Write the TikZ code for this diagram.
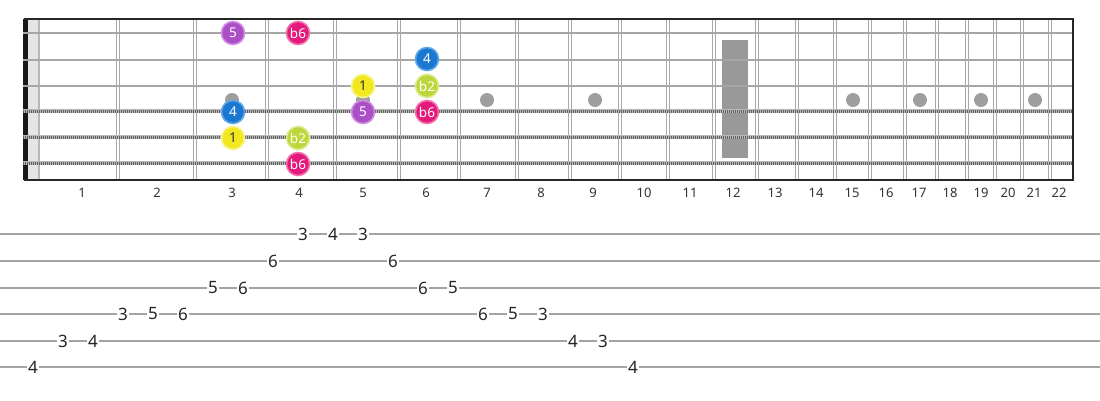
\documentclass[tikz,border=0pt]{standalone}
\usepackage{fontspec}
\setmainfont{Noto Sans}
\definecolor{cpurple}{HTML}{AB4FC6}
\definecolor{cpurpler}{HTML}{D08CE2}
\definecolor{cpink}{HTML}{E4197C}
\definecolor{cpinkr}{HTML}{F26FAB}
\definecolor{cblue}{HTML}{1B78D2}
\definecolor{cbluer}{HTML}{5FA6E8}
\definecolor{cyellow}{HTML}{F1E820}
\definecolor{cyellowr}{HTML}{F8F38A}
\definecolor{clime}{HTML}{BCD73A}
\definecolor{climer}{HTML}{DAEB8E}
\begin{document}
\begin{tikzpicture}[x=1pt,y=-1pt,
  note/.style={circle, minimum size=23pt, inner sep=0pt, line width=1.6pt, font=\fontsize{13.5}{14}\selectfont, text=white},
  tabnum/.style={fill=white, inner sep=1pt, font=\fontsize{17}{17}\selectfont, text=black!85},
  fretnum/.style={inner sep=0pt, font=\fontsize{13}{13}\selectfont, text=black!80},
  fretline/.style={black!34, line width=1.3pt},
  plainstring/.style={black!35, line width=2.8pt},
  woundbase/.style={black!28, line width=4pt},
  woundtex/.style={black!62, line width=3pt, dash pattern=on 1pt off 1pt},
  markdot/.style={circle, fill=black!38, minimum size=14pt, inner sep=0pt},
  tabline/.style={black!36, line width=1.4pt}]
\useasboundingbox (0,0) rectangle (1100,400);
\fill[white] (0,0) rectangle (1100,400);
% 12th fret marker
\fill[black!40] (722,40) rectangle (748,158);
% nut
\fill[black!90] (23,19) rectangle (27.5,180);
\fill[black!10] (28,19) rectangle (37.5,180);
\fill[black!28] (37.5,19) rectangle (40,180);
% frets
\foreach \fx in {118,195,267,335,399,459,517,570,620,668,714,757,797,835,870,905,937,967,995,1022,1050} {
  \draw[fretline] (\fx-1.5,19) -- (\fx-1.5,180);
  \draw[fretline] (\fx+1.5,19) -- (\fx+1.5,180);
}
% position dots
\foreach \dx [count=\di] in {232,363,487,595,853,920,981,1035} {
  \node[markdot] (dot\di) at (\dx,100) {};
}
% strings
\foreach \sy in {33,60,86} {
  \draw[plainstring] (23,\sy) -- (1073,\sy);
}
\foreach \sy in {111,137,163} {
  \draw[woundbase] (23,\sy) -- (1073,\sy);
  \draw[woundtex] (23,\sy) -- (1073,\sy);
}
% border
\draw[black!85, line width=1.5pt] (24,19) -- (1074,19);
\draw[black!85, line width=1.5pt] (24,180) -- (1074,180);
\draw[black!85, line width=2.5pt] (1073,19) -- (1073,180.7);
% notes
\node[note, fill=cpurple, draw=cpurpler] (n1) at (233,33) {5};
\node[note, fill=cpink, draw=cpinkr] (n2) at (298,33) {b6};
\node[note, fill=cblue, draw=cbluer] (n3) at (427,59) {4};
\node[note, fill=cyellow, draw=cyellowr, text=black!80] (n4) at (363,86) {1};
\node[note, fill=clime, draw=climer] (n5) at (427,86) {b2};
\node[note, fill=cblue, draw=cbluer] (n6) at (233,112) {4};
\node[note, fill=cpurple, draw=cpurpler] (n7) at (363,112) {5};
\node[note, fill=cpink, draw=cpinkr] (n8) at (427,112) {b6};
\node[note, fill=cyellow, draw=cyellowr, text=black!80] (n9) at (233,138) {1};
\node[note, fill=clime, draw=climer] (n10) at (298,138) {b2};
\node[note, fill=cpink, draw=cpinkr] (n11) at (298,164) {b6};
% fret numbers
\foreach \lx [count=\li] in {82,157,232,299,363,426,487,541,593,644,690,733,775,816,852,886,919,950,981,1008,1034,1059} {
  \node[fretnum] (f\li) at (\lx,193) {\li};
}
% tab lines
\foreach \ty [count=\ti] in {234,261,288,314,341,367} {
  \draw[tabline] (0,\ty) -- (1100,\ty);
}
% tab numbers
\foreach \k/\ty/\v in {0/367/4,1/341/3,2/341/4,3/314/3,4/314/5,5/314/6,6/288/5,7/288/6,8/261/6,9/234/3,10/234/4,11/234/3,12/261/6,13/288/6,14/288/5,15/314/6,16/314/5,17/314/3,18/341/4,19/341/3,20/367/4} {
  \node[tabnum] (t\k) at (33+30*\k,\ty) {\v};
}
\end{tikzpicture}
\end{document}
